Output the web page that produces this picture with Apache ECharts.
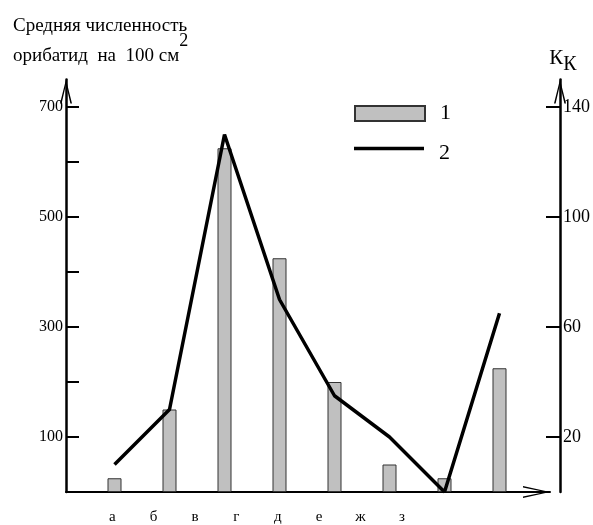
<!DOCTYPE html>
<html><head><meta charset="utf-8">
<script src="https://cdn.jsdelivr.net/npm/echarts@6/dist/echarts.min.js"></script>
<style>html,body{margin:0;padding:0;background:#fff}#c{width:593px;height:525px}</style>
</head><body><div id="c"></div>
<script>
const categories = ['а', 'б', 'в', 'г', 'д', 'е', 'ж', 'з'];
const barValues = [25, 150, 625, 425, 200, 50, 25, 225];
const lineValues = [10, 30, 130, 70, 35, 20, 0, 65];
const leftTicks = [0, 100, 200, 300, 400, 500, 600, 700];
const leftLabels = [100, 300, 500, 700];
const rightTicks = [20, 60, 100, 140];
const seriesNames = ['1', '2'];

const FONT = 'Liberation Serif';
const yArrow = 'path://M0,0 L6,24 L4.4,24 L0,5 L-4.4,24 L-6,24 Z';
const xArrow = 'path://M0,0 L6,27 L4.4,27 L0,5 L-4.4,27 L-6,27 Z';

const chart = echarts.init(document.getElementById('c'), null, {renderer: 'canvas'});
chart.setOption({
  animation: false,
  backgroundColor: '#fff',
  title: {
    text: 'Средняя численность\nорибатид  на  100 см{s|2}',
    left: 13, top: 11, padding: 0,
    textStyle: {
      fontFamily: FONT, fontSize: 19, fontWeight: 'normal', color: '#000', lineHeight: 30,
      rich: { s: { fontFamily: FONT, fontSize: 18, color: '#000', lineHeight: 1, padding: [0, 0, 29, 0] } }
    }
  },
  legend: [
    {
      data: [{ name: seriesNames[0], icon: 'rect' }],
      left: 354, top: 102.5, padding: 0,
      itemWidth: 70, itemHeight: 15,
      textStyle: { fontFamily: FONT, fontSize: 22, color: '#000', padding: [0, 0, 0, 10] }
    },
    {
      data: [{ name: seriesNames[1], icon: 'rect' }],
      left: 354, top: 132.4, padding: 0,
      itemWidth: 70, itemHeight: 3.5,
      formatter: function (n) { return '\n' + n; },
      textStyle: { fontFamily: FONT, fontSize: 22, lineHeight: 10, color: '#000', padding: [0, 0, 0, 10] }
    }
  ],
  grid: [
    { left: 87, right: 66, top: 79.5, bottom: 33 },
    { left: 66, right: 43, top: 79.5, bottom: 33 },
    { left: 91.6, right: 170.4, top: 79.5, bottom: 33 }
  ],
  xAxis: [
    { type: 'category', gridIndex: 0, data: categories, show: false },
    {
      type: 'value', gridIndex: 1, min: 0, max: 1,
      axisLine: { show: true, lineStyle: { color: '#000', width: 2 }, symbol: ['none', xArrow], symbolSize: [12, 27], symbolOffset: [0, -13.5] },
      axisTick: { show: false }, axisLabel: { show: false }, splitLine: { show: false }
    },
    {
      type: 'category', gridIndex: 2, data: categories,
      axisLine: { show: false }, axisTick: { show: false }, splitLine: { show: false },
      axisLabel: { fontFamily: FONT, fontSize: 15, color: '#000', margin: 19 }
    }
  ],
  yAxis: [
    {
      type: 'value', gridIndex: 0, position: 'left', offset: 21, min: 0, max: 750,
      axisLine: { show: true, lineStyle: { color: '#000', width: 2.5 }, symbol: ['none', yArrow], symbolSize: [12, 24], symbolOffset: [0, -12] },
      axisTick: { show: true, inside: true, length: 13, lineStyle: { color: '#000', width: 2 }, customValues: leftTicks },
      axisLabel: { fontFamily: FONT, fontSize: 16, color: '#000', margin: 3, customValues: leftLabels },
      splitLine: { show: false }
    },
    {
      type: 'value', gridIndex: 0, position: 'right', offset: 33, min: 0, max: 150,
      name: '{a|К}{b|К}', nameLocation: 'end', nameGap: 5,
      nameTextStyle: {
        padding: [0, 0, 0, 6],
        rich: {
          a: { fontFamily: FONT, fontSize: 21, color: '#000' },
          b: { fontFamily: FONT, fontSize: 20, color: '#000', padding: [12, 0, 0, 0] }
        }
      },
      axisLine: { show: true, lineStyle: { color: '#000', width: 2.5 }, symbol: ['none', yArrow], symbolSize: [12, 24], symbolOffset: [0, -12] },
      axisTick: { show: true, inside: true, length: 14, lineStyle: { color: '#000', width: 2 }, customValues: rightTicks },
      axisLabel: { fontFamily: FONT, fontSize: 18, color: '#000', margin: 3, customValues: rightTicks },
      splitLine: { show: false }
    },
    { type: 'value', gridIndex: 1, show: false },
    { type: 'value', gridIndex: 2, show: false }
  ],
  series: [
    {
      name: seriesNames[0], type: 'bar', xAxisIndex: 0, yAxisIndex: 0,
      data: barValues, barWidth: 14,
      itemStyle: { color: '#c0c0c0', borderColor: '#333', borderWidth: 1 }
    },
    {
      name: seriesNames[1], type: 'line', xAxisIndex: 0, yAxisIndex: 1,
      data: lineValues, symbol: 'none', z: 5,
      lineStyle: { color: '#000', width: 3.5 }, itemStyle: { color: '#000' }
    }
  ]
});
</script></body></html>
